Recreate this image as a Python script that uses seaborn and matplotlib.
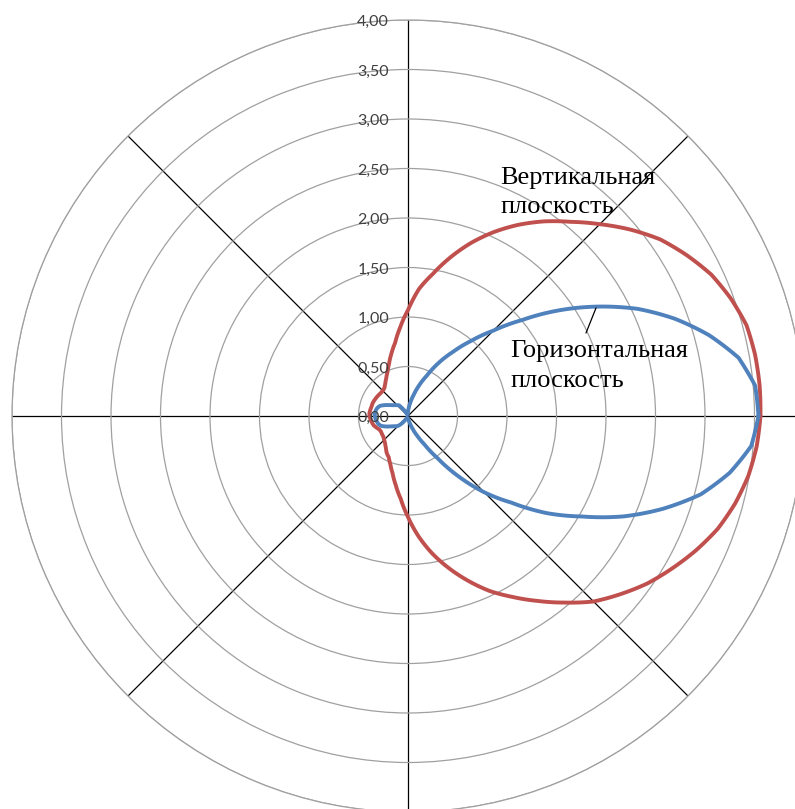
import numpy as np
import pandas as pd
import matplotlib
matplotlib.use("Agg")
import matplotlib.pyplot as plt
from matplotlib.lines import Line2D
from matplotlib.transforms import ScaledTranslation
import seaborn as sns

# Radiation pattern, sampled every 5 degrees (counter-clockwise from 0°)
angles_deg = list(range(0, 360, 5))

vertical_plane = [
    3.56, 3.565, 3.56, 3.54, 3.47, 3.38, 3.25, 3.11, 2.93, 2.74, 2.56, 2.40,   # 0..55
    2.23, 2.05, 1.86, 1.66, 1.46, 1.29, 1.07, 0.90, 0.75, 0.65, 0.56, 0.49,    # 60..115
    0.44, 0.40, 0.37, 0.36, 0.36, 0.365, 0.37, 0.375, 0.38, 0.38, 0.385, 0.39, # 120..175
    0.39, 0.38, 0.37, 0.36, 0.34, 0.32, 0.315, 0.32, 0.325, 0.34, 0.36, 0.39,  # 180..235
    0.43, 0.46, 0.52, 0.60, 0.71, 0.84, 1.02, 1.22, 1.41, 1.59, 1.77, 1.95,    # 240..295
    2.11, 2.28, 2.46, 2.65, 2.80, 2.95, 3.08, 3.21, 3.33, 3.42, 3.49, 3.535,   # 300..355
]

horizontal_plane = [
    3.54, 3.52, 3.39, 3.15, 2.87, 2.56, 2.21, 1.86, 1.51, 1.22, 0.99, 0.79,    # 0..55
    0.62, 0.45, 0.33, 0.22, 0.14, 0.08, 0.04, 0.02, 0.02, 0.02, 0.02, 0.02,    # 60..115
    0.03, 0.08, 0.14, 0.155, 0.17, 0.19, 0.22, 0.26, 0.30, 0.32, 0.33, 0.335,  # 120..175
    0.335, 0.33, 0.32, 0.31, 0.29, 0.25, 0.21, 0.18, 0.16, 0.14, 0.10, 0.05,   # 180..235
    0.02, 0.02, 0.02, 0.02, 0.02, 0.02, 0.02, 0.03, 0.05, 0.08, 0.14, 0.22,    # 240..295
    0.33, 0.52, 0.80, 1.09, 1.36, 1.71, 2.03, 2.40, 2.74, 3.06, 3.30, 3.48,    # 300..355
]

series_names = ["Вертикальная плоскость", "Горизонтальная плоскость"]
series_colors = ["#C0504D", "#4F81BD"]

r_ticks = [0.0, 0.5, 1.0, 1.5, 2.0, 2.5, 3.0, 3.5, 4.0]
r_tick_labels = ["0,00", "0,50", "1,00", "1,50", "2,00", "2,50", "3,00", "3,50", "4,00"]
spoke_angles_deg = [0, 45, 90, 135, 180, 225, 270, 315]

# Long-form table, each curve closed back to its starting point
rows = []
for name, values in zip(series_names, [vertical_plane, horizontal_plane]):
    for a, v in zip(angles_deg + [360], values + [values[0]]):
        rows.append({"theta": np.deg2rad(a), "r": v, "series": name})
df = pd.DataFrame(rows)

sns.set_style("white")
plt.rcParams["font.family"] = ["Lato", "DejaVu Sans"]

W, H = 795, 809
fig = plt.figure(figsize=(W / 100, H / 100), dpi=100)
fig.patch.set_facecolor("white")
ax = fig.add_axes([12 / W, (H - 416 - 396) / H, 792 / W, 792 / H], projection="polar")
ax.set_facecolor("white")

sns.lineplot(
    data=df, x="theta", y="r", hue="series", hue_order=series_names,
    palette=series_colors, sort=False, estimator=None, linewidth=2.8,
    legend=False, ax=ax,
)
# Let the polar transform bend each segment along theta instead of drawing chords
for line in ax.get_lines():
    line.get_path()._interpolation_steps = 20
    line.set_solid_joinstyle("round")

ax.set_xlabel("")
ax.set_ylabel("")
ax.set_ylim(0, 4)
ax.set_yticks(r_ticks)
ax.set_yticklabels([])
ax.set_xticks(np.deg2rad(spoke_angles_deg))
ax.set_xticklabels([])
ax.tick_params(length=0, pad=0)
ax.yaxis.grid(True, color="#a0a0a0", linewidth=0.9)
ax.xaxis.grid(True, color="black", linewidth=0.9)
ax.spines["polar"].set_color("#a0a0a0")
ax.spines["polar"].set_linewidth(0.9)

# Radial value labels along the vertical axis
label_offset = ax.transData + ScaledTranslation(-0.19, -0.02, fig.dpi_scale_trans)
for r, lbl in zip(r_ticks, r_tick_labels):
    ax.text(np.pi / 2, r, lbl, transform=label_offset, ha="right", va="center",
            fontsize=11.5, color="#404040")

# Series captions
def px(x, y):
    return x / W, 1 - y / H

serif = ["Liberation Serif", "DejaVu Serif"]
for line, y in zip(["Вертикальная", "плоскость"], [184, 213]):
    fig.text(*px(500, y), line, family=serif, fontsize=19, color="black",
             ha="left", va="baseline")
for line, y in zip(["Горизонтальная", "плоскость"], [357, 387]):
    fig.text(*px(510, y), line, family=serif, fontsize=19, color="black",
             ha="left", va="baseline")

x0, y0 = px(596, 308)
x1, y1 = px(586, 333)
fig.add_artist(Line2D([x0, x1], [y0, y1], transform=fig.transFigure,
                      color="black", linewidth=0.9))

fig.savefig("out.png", dpi=100, facecolor="white")
